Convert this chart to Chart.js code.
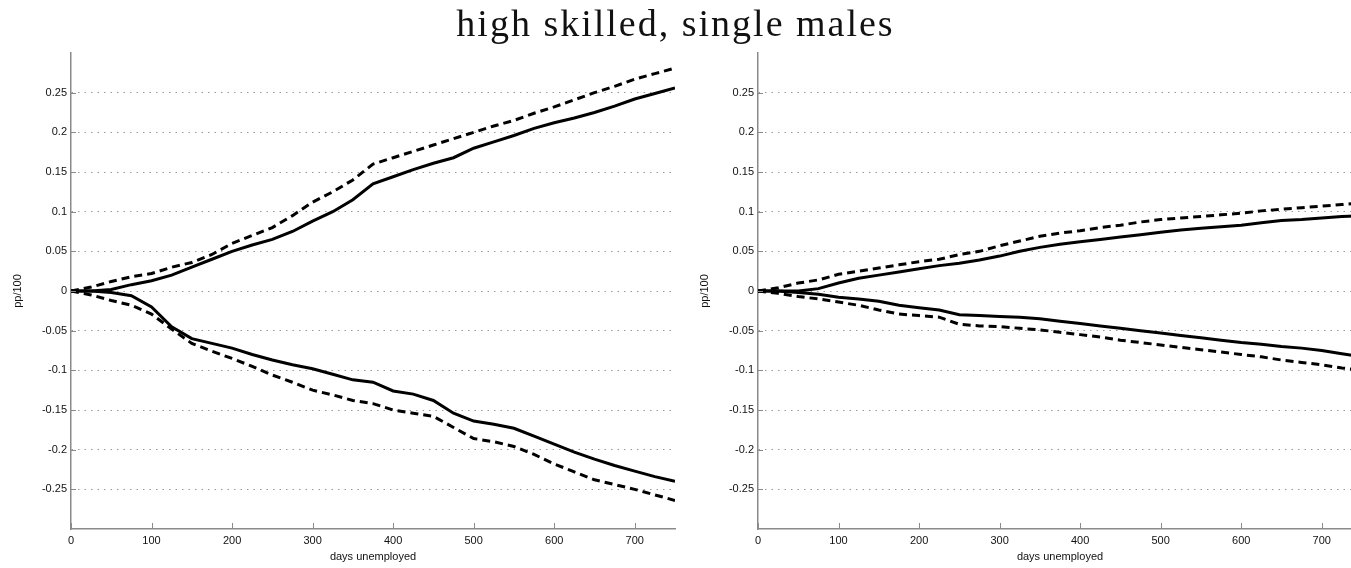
<!DOCTYPE html>
<html>
<head>
<meta charset="utf-8">
<script src="https://cdn.jsdelivr.net/npm/chart.js@4.4.1/dist/chart.umd.min.js"></script>
<style>
    html, body { margin: 0; padding: 0; background: #fff; overflow: hidden; }
    #page { position: relative; width: 1351px; height: 568px; overflow: hidden; }
    #title {
        position: absolute; left: 0; width: 1351px; top: 1px; text-align: center;
        font-family: 'Liberation Serif', serif; font-size: 38px; letter-spacing: 2px; color: #111;
    }
    .panel { position: absolute; top: 0; width: 690px; height: 568px; }
    #left { left: 0; }
    #right { left: 687px; }
</style>
</head>
<body>
<div id="page">
    <div class="panel" id="left"><canvas id="chartLeft"></canvas></div>
    <div class="panel" id="right"><canvas id="chartRight"></canvas></div>
    <div id="title">high skilled, single males</div>
</div>
<script>
const days = [0, 25, 50, 75, 100, 125, 150, 175, 200, 225, 250, 275, 300, 325, 350, 375,
    400, 425, 450, 475, 500, 525, 550, 575, 600, 625, 650, 675, 700, 725, 750];

const xTicks = [0, 100, 200, 300, 400, 500, 600, 700];
const yTicks = [-0.25, -0.2, -0.15, -0.1, -0.05, 0, 0.05, 0.1, 0.15, 0.2, 0.25];

// left panel
const leftUpper = [0, 0, 0.002, 0.008, 0.013, 0.02, 0.03, 0.04, 0.05, 0.058, 0.065, 0.075, 0.088, 0.1, 0.115, 0.135,
    0.144, 0.153, 0.161, 0.168, 0.18, 0.188, 0.196, 0.205, 0.212, 0.218, 0.225, 0.233, 0.242, 0.249, 0.256];
const leftUpperBand = [0, 0.005, 0.012, 0.018, 0.022, 0.03, 0.036, 0.046, 0.06, 0.07, 0.08, 0.095, 0.112, 0.125, 0.14, 0.16,
    0.168, 0.176, 0.184, 0.192, 0.2, 0.208, 0.215, 0.224, 0.232, 0.241, 0.25, 0.258, 0.267, 0.274, 0.281];
const leftLower = [0, 0, -0.002, -0.006, -0.02, -0.045, -0.06, -0.066, -0.072, -0.08, -0.087, -0.093, -0.098, -0.105, -0.112, -0.115,
    -0.126, -0.13, -0.138, -0.154, -0.164, -0.168, -0.173, -0.183, -0.193, -0.203, -0.212, -0.22, -0.227, -0.234, -0.24];
const leftLowerBand = [0, -0.005, -0.012, -0.018, -0.029, -0.048, -0.066, -0.076, -0.085, -0.095, -0.106, -0.115, -0.125, -0.131, -0.138, -0.142,
    -0.15, -0.154, -0.158, -0.172, -0.186, -0.19, -0.196, -0.206, -0.218, -0.228, -0.238, -0.244, -0.25, -0.257, -0.264];

// right panel
const rightUpper = [0, 0, 0, 0.003, 0.01, 0.016, 0.02, 0.024, 0.028, 0.032, 0.035, 0.039, 0.044, 0.05, 0.055, 0.059,
    0.062, 0.065, 0.068, 0.071, 0.074, 0.077, 0.079, 0.081, 0.083, 0.086, 0.089, 0.09, 0.092, 0.094, 0.095];
const rightUpperBand = [0, 0.004, 0.01, 0.014, 0.021, 0.025, 0.029, 0.033, 0.037, 0.04, 0.046, 0.05, 0.057, 0.063, 0.069, 0.073,
    0.076, 0.08, 0.083, 0.087, 0.09, 0.092, 0.094, 0.096, 0.098, 0.101, 0.103, 0.105, 0.107, 0.109, 0.111];
const rightLower = [0, 0, -0.002, -0.004, -0.008, -0.01, -0.013, -0.018, -0.021, -0.024, -0.03, -0.031, -0.032, -0.033, -0.035, -0.038,
    -0.041, -0.044, -0.047, -0.05, -0.053, -0.056, -0.059, -0.062, -0.065, -0.067, -0.07, -0.072, -0.075, -0.079, -0.083];
const rightLowerBand = [0, -0.003, -0.007, -0.01, -0.014, -0.018, -0.024, -0.029, -0.031, -0.033, -0.042, -0.044, -0.045, -0.047, -0.049, -0.052,
    -0.055, -0.058, -0.062, -0.065, -0.068, -0.071, -0.074, -0.077, -0.08, -0.083, -0.087, -0.09, -0.093, -0.097, -0.1];

const axisColor = '#8a8a8a';
const tickFont = { family: "'Liberation Sans', Arial, sans-serif", size: 11 };

// short tick marks pointing into the plot, like matlab does
const innerTicks = {
    id: 'innerTicks',
    afterDraw(chart) {
        const ctx = chart.ctx;
        const area = chart.chartArea;
        ctx.save();
        ctx.strokeStyle = axisColor;
        ctx.lineWidth = 1;
        ctx.beginPath();
        chart.scales.y.ticks.forEach(t => {
            const py = Math.round(chart.scales.y.getPixelForValue(t.value)) + 0.5;
            ctx.moveTo(area.left, py);
            ctx.lineTo(area.left + 5, py);
        });
        chart.scales.x.ticks.forEach(t => {
            const px = Math.round(chart.scales.x.getPixelForValue(t.value)) + 0.5;
            ctx.moveTo(px, area.bottom);
            ctx.lineTo(px, area.bottom - 6);
        });
        ctx.stroke();
        ctx.restore();
    }
};

function series(values, dashed) {
    return {
        data: days.map((d, i) => ({ x: d, y: values[i] })),
        borderColor: '#000',
        borderWidth: 3,
        borderDash: dashed ? [8, 5] : [],
        pointRadius: 0,
        tension: 0,
        fill: false
    };
}

function drawPanel(canvasId, upper, upperBand, lower, lowerBand) {
    const ctx = document.getElementById(canvasId);
    return new Chart(ctx, {
        type: 'line',
        data: {
            datasets: [
                series(upperBand, true),
                series(lowerBand, true),
                series(upper, false),
                series(lower, false)
            ]
        },
        options: {
            responsive: true,
            maintainAspectRatio: false,
            animation: false,
            layout: { padding: { top: 53, right: 15, left: 0, bottom: 0 } },
            plugins: {
                legend: { display: false },
                tooltip: { enabled: false }
            },
            scales: {
                x: {
                    type: 'linear',
                    min: 0,
                    max: 750,
                    afterBuildTicks: axis => { axis.ticks = xTicks.map(v => ({ value: v })); },
                    afterFit: axis => { axis.height = 39; },
                    grid: { display: false, drawTicks: false },
                    border: { display: true, color: axisColor, width: 1.5 },
                    ticks: { color: '#111', font: tickFont, padding: 5, maxRotation: 0 },
                    title: {
                        display: true,
                        text: 'days unemployed',
                        color: '#111',
                        font: tickFont,
                        padding: { top: 0, bottom: 4 }
                    }
                },
                y: {
                    min: -0.3,
                    max: 0.3,
                    afterBuildTicks: axis => { axis.ticks = yTicks.map(v => ({ value: v })); },
                    afterFit: axis => { axis.width = 71; },
                    grid: { color: '#9a9a9a', lineWidth: 1, drawTicks: false },
                    border: { display: true, color: axisColor, width: 1.5, dash: [1.5, 5] },
                    ticks: {
                        color: '#111',
                        font: tickFont,
                        padding: 4,
                        callback: v => String(Math.round(v * 100) / 100)
                    },
                    title: {
                        display: true,
                        text: 'pp/100',
                        color: '#111',
                        font: tickFont,
                        padding: { top: 11, bottom: 0 }
                    }
                }
            }
        },
        plugins: [innerTicks]
    });
}

drawPanel('chartLeft', leftUpper, leftUpperBand, leftLower, leftLowerBand);
drawPanel('chartRight', rightUpper, rightUpperBand, rightLower, rightLowerBand);
</script>
</body>
</html>
